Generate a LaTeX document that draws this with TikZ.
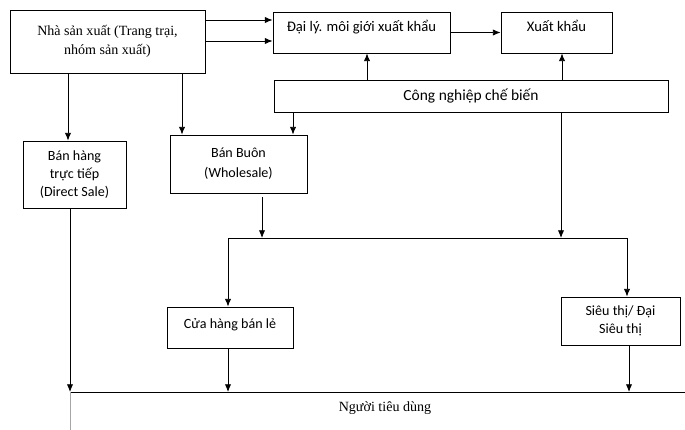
\documentclass[tikz,border=0pt]{standalone}
\usepackage{fontspec}
\setmainfont{Liberation Serif}
\newfontfamily\calib{Carlito}
\usetikzlibrary{arrows.meta, calc}

\begin{document}
\begin{tikzpicture} [
        x=0.025cm, y=-0.025cm,
        box/.style={draw, line width=0.6pt, inner sep=0pt, align=center, font=\calib},
        topbox/.style={box, font=\calib\fontsize{10.4}{12}\selectfont, text height=1.5ex, text depth=1.7ex},
        arr/.style={-{Latex[length=5.5pt, width=4.5pt]}, line width=0.6pt},
        ln/.style={line width=0.6pt}
    ]
        \path[use as bounding box, clip] (0,0) rectangle (685,429);

        % boxes
        \node [box, font=\normalfont, minimum width=4.875cm, minimum height=1.575cm] (prod) at (107.5,41.5)
            {Nhà sản xuất (Trang trại,\\[1pt] nhóm sản xuất)};
        \node [topbox, minimum width=4.425cm, minimum height=1.025cm] (daily) at (361.5,32.5)
            {Đại lý. môi giới xuất khẩu};
        \node [topbox, minimum width=2.775cm, minimum height=1.025cm] (xk) at (556.5,32.5) {Xuất khẩu};
        \node [box, font=\calib\fontsize{11}{13}\selectfont, minimum width=9.85cm, minimum height=0.8cm] (cn) at (471,96)
            {Công nghiệp chế biến};
        \node [box, minimum width=2.575cm, minimum height=1.675cm] (bh) at (74.5,174.5)
            {Bán hàng\\[1pt] trực tiếp\\[1pt] (Direct Sale)};
        \node [box, minimum width=3.425cm, minimum height=1.45cm] (bb) at (238.5,164)
            {Bán Buôn\\[2pt] (Wholesale)};
        \node [box, minimum width=3.15cm, minimum height=1.025cm, text depth=1.2ex] (ch) at (230,327.5)
            {Cửa hàng bán lẻ};
        \node [box, minimum width=2.975cm, minimum height=1.2cm] (st) at (620.5,321)
            {Siêu thị/ Đại\\[1pt] Siêu thị};
        \node [font=\normalfont] (nguoi) at (385,408) {Người tiêu dùng};

        % frame of the consumer box
        \draw[ln] (690,392) -- (70,392);
        \draw[line width=0.6pt, black!35] (70,392) -- (70,435);

        % helper coordinates
        \coordinate (p1) at (0,20);
        \coordinate (p2) at (0,41);
        \coordinate (cx1) at (367,0);
        \coordinate (cx2) at (562,0);
        \coordinate (bx1) at (68,0);
        \coordinate (bx2) at (70,0);
        \coordinate (bx3) at (182,0);
        \coordinate (bx4) at (293,0);
        \coordinate (bx5) at (262,0);
        \coordinate (hl) at (228,238);
        \coordinate (hr) at (627,238);
        \coordinate (hm) at (561,238);
        \coordinate (sx) at (629,0);
        \coordinate (ground) at (0,392);

        % connectors
        \draw[arr] (prod.east |- p1) -- (daily.west |- p1);
        \draw[arr] (prod.east |- p2) -- (daily.west |- p2);
        \draw[arr] (daily) -- (xk);
        \draw[arr] (cn.north -| cx1) -- (daily.south -| cx1);
        \draw[arr] (cn.north -| cx2) -- (xk.south -| cx2);
        \draw[arr] (prod.south -| bx1) -- (bh.north -| bx1);
        \draw[arr] (prod.south -| bx3) -- (bb.north -| bx3);
        \draw[arr] (cn.south -| bx4) -- (bb.north -| bx4);
        \draw[arr] ([yshift=-4*0.025cm]bb.south -| bx5) -- (hl -| bx5);
        \draw[arr] (cn.south -| hm) -- (hm);
        \draw[ln] (hl) -- (hr);
        \draw[arr] (hl) -- (ch.north -| hl);
        \draw[arr] (hr) -- (st.north -| hr);
        \draw[arr] (bh.south -| bx2) -- (ground -| bx2);
        \draw[arr] (ch.south -| hl) -- (ground -| hl);
        \draw[arr] (st.south -| sx) -- (ground -| sx);
    \end{tikzpicture}
\end{document}
